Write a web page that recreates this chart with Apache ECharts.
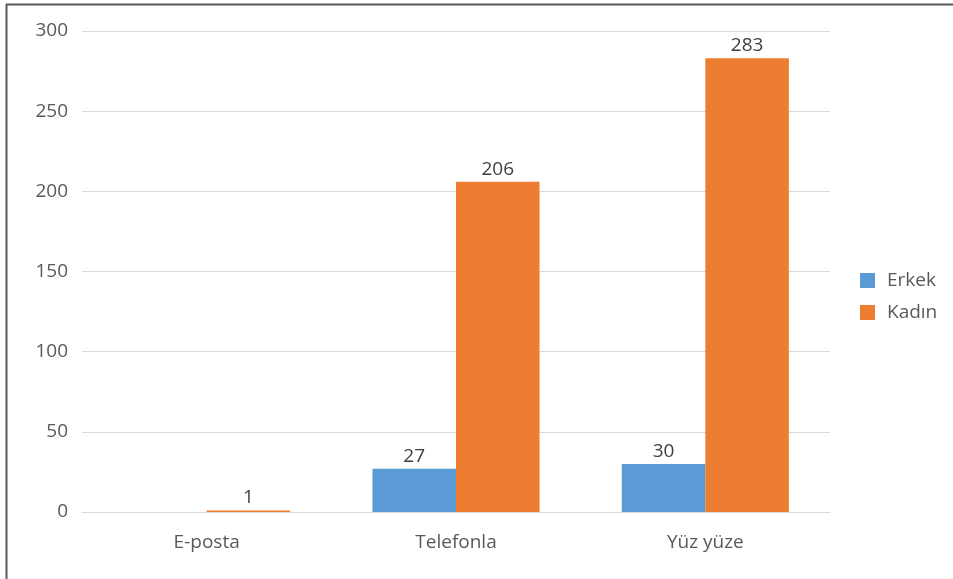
<!DOCTYPE html>
<html><head><meta charset="utf-8">
<script src="https://cdn.jsdelivr.net/npm/echarts@6/dist/echarts.min.js"></script>
<style>html,body{margin:0;padding:0;background:#fff}#c{width:953px;height:579px}</style>
</head><body><div id="c"></div>
<script>
const categories = ['E-posta', 'Telefonla', 'Yüz yüze'];
const erkek = [0, 27, 30];
const kadin = [1, 206, 283];
const yTicks = [0, 50, 100, 150, 200, 250, 300];

const chart = echarts.init(document.getElementById('c'));
const font = '"Open Sans", "Noto Sans", sans-serif';
const fs = 19;
chart.setOption({
  animation: false,
  backgroundColor: '#fff',
  textStyle: { fontFamily: font },
  grid: { left: 82, right: 123, top: 31, bottom: 67 },
  legend: {
    orient: 'vertical', left: 855, top: 266,
    itemWidth: 15, itemHeight: 15, itemGap: 13,
    icon: 'rect',
    textStyle: { fontSize: fs, color: '#595959', fontFamily: font, padding: [0, 0, 0, 7] },
    data: ['Erkek', 'Kadın']
  },
  xAxis: {
    type: 'category', data: categories,
    axisLine: { lineStyle: { color: '#D9D9D9' } },
    axisTick: { show: false },
    axisLabel: { fontSize: fs, color: '#595959', margin: 21, fontFamily: font }
  },
  yAxis: {
    type: 'value', min: yTicks[0], max: yTicks[yTicks.length - 1], interval: 50,
    axisLine: { show: false }, axisTick: { show: false },
    splitLine: { lineStyle: { color: '#D9D9D9' } },
    axisLabel: { fontSize: fs, color: '#595959', margin: 14, fontFamily: font }
  },
  series: [
    { name: 'Erkek', type: 'bar', data: erkek, barGap: '0%', barCategoryGap: '33%',
      itemStyle: { color: '#5B9BD5' },
      label: { show: true, position: 'top', fontSize: fs, color: '#404040', distance: 3,
        formatter: p => p.value ? p.value : '' } },
    { name: 'Kadın', type: 'bar', data: kadin, barGap: '0%', barCategoryGap: '33%',
      itemStyle: { color: '#ED7D31' },
      label: { show: true, position: 'top', fontSize: fs, color: '#404040', distance: 3 } }
  ],
  graphic: [
    { type: 'line', shape: { x1: 6, y1: 4.5, x2: 953, y2: 4.5 }, style: { stroke: '#5a5a5a', lineWidth: 2 } },
    { type: 'line', shape: { x1: 6.5, y1: 4, x2: 6.5, y2: 579 }, style: { stroke: '#5a5a5a', lineWidth: 2 } }
  ]
});
</script></body></html>
